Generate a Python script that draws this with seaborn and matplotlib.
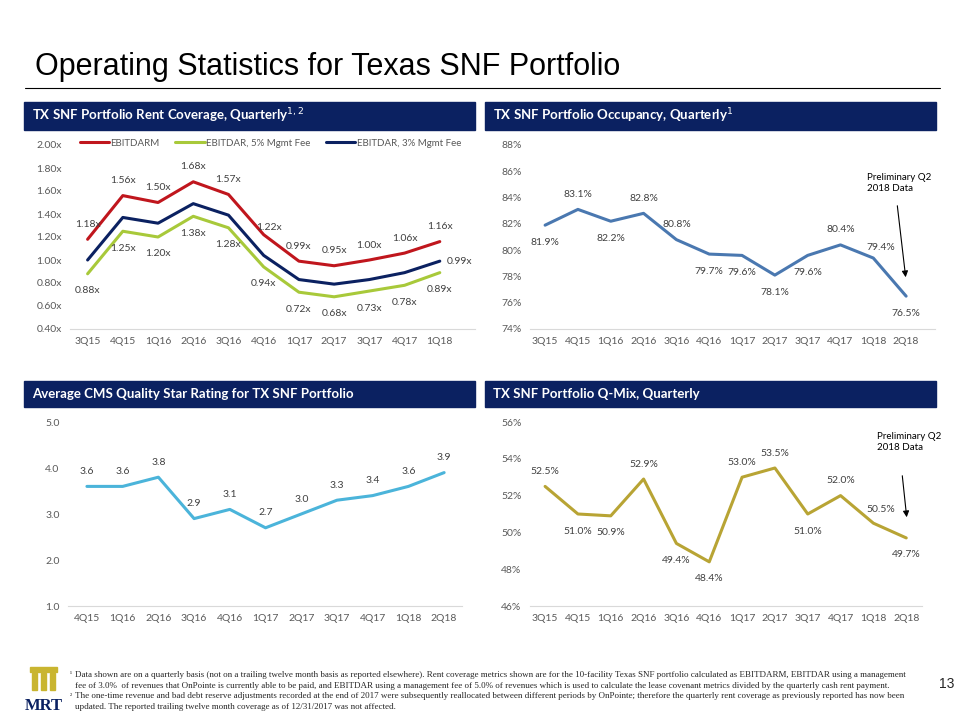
import pandas as pd
import seaborn as sns
import matplotlib.pyplot as plt
from matplotlib.patches import Rectangle

# ---- data ----
rent_q = ["3Q15", "4Q15", "1Q16", "2Q16", "3Q16", "4Q16", "1Q17", "2Q17", "3Q17", "4Q17", "1Q18"]
ebitdarm = [1.18, 1.56, 1.50, 1.68, 1.57, 1.22, 0.99, 0.95, 1.00, 1.06, 1.16]
ebitdar_5 = [0.88, 1.25, 1.20, 1.38, 1.28, 0.94, 0.72, 0.68, 0.73, 0.78, 0.89]
ebitdar_3 = [1.00, 1.37, 1.32, 1.49, 1.39, 1.04, 0.83, 0.79, 0.83, 0.89, 0.99]

occ_q = ["3Q15", "4Q15", "1Q16", "2Q16", "3Q16", "4Q16", "1Q17", "2Q17", "3Q17", "4Q17", "1Q18", "2Q18"]
occupancy = [81.9, 83.1, 82.2, 82.8, 80.8, 79.7, 79.6, 78.1, 79.6, 80.4, 79.4, 76.5]

star_q = ["4Q15", "1Q16", "2Q16", "3Q16", "4Q16", "1Q17", "2Q17", "3Q17", "4Q17", "1Q18", "2Q18"]
star = [3.6, 3.6, 3.8, 2.9, 3.1, 2.7, 3.0, 3.3, 3.4, 3.6, 3.9]

qmix_q = ["3Q15", "4Q15", "1Q16", "2Q16", "3Q16", "4Q16", "1Q17", "2Q17", "3Q17", "4Q17", "1Q18", "2Q18"]
qmix = [52.5, 51.0, 50.9, 52.9, 49.4, 48.4, 53.0, 53.5, 51.0, 52.0, 50.5, 49.7]

NAVY = "#0B2161"
GRAY = "#595959"

sns.set_style("white")
plt.rcParams["font.family"] = ["Lato", "DejaVu Sans"]

W, H = 960, 720
fig = plt.figure(figsize=(9.6, 7.2), dpi=100)


def px_axes(x0, x1, ytop, ybot):
    return fig.add_axes([x0 / W, 1 - ybot / H, (x1 - x0) / W, (ybot - ytop) / H])


def header(x0, x1, ytop, ybot, text):
    fig.patches.append(Rectangle((x0 / W, 1 - ybot / H), (x1 - x0) / W, (ybot - ytop) / H,
                                 transform=fig.transFigure, color=NAVY, zorder=0))
    fig.text((x0 + 8) / W, 1 - (ytop + ybot) / 2 / H, text, color="white", fontsize=9.5,
             fontweight="bold", va="center", ha="left")


def style(ax, ylim, yticks, fmt, xlim):
    ax.set_ylim(*ylim)
    ax.set_xlim(*xlim)
    ax.set_yticks(yticks)
    ax.set_yticklabels([fmt(v) for v in yticks])
    for s in ["top", "left", "right"]:
        ax.spines[s].set_visible(False)
    ax.spines["bottom"].set_color("#D9D9D9")
    ax.tick_params(length=0, labelsize=7.5, colors=GRAY, pad=6)
    ax.set_xlabel("")
    ax.set_ylabel("")
    ax.patch.set_alpha(0)


def labels(ax, vals, fmt, places, extra=None):
    extra = extra or {}
    for i, v in enumerate(vals):
        dx, dy = extra.get(i, (0, 15 if places[i] == "a" else -17))
        ax.annotate(fmt(v), (i, v), xytext=(dx, dy), textcoords="offset pixels",
                    ha="center", va="center", fontsize=7.5, color="#404040")


# title
fig.text(35 / W, 1 - 67 / H, "Operating Statistics for Texas SNF Portfolio",
         family="Liberation Sans", fontsize=22, va="center", ha="left", color="black")
fig.add_artist(plt.Line2D([25 / W, 940 / W], [1 - 88 / H, 1 - 88 / H], color="black", lw=0.8))

# ---- rent coverage ----
header(24, 475, 102, 130, "TX SNF Portfolio Rent Coverage, Quarterly$^{1,2}$")
ax1 = px_axes(70, 475, 145, 329)
rent = pd.DataFrame({"q": rent_q * 3,
                     "v": ebitdarm + ebitdar_5 + ebitdar_3,
                     "s": ["EBITDARM"] * 11 + ["EBITDAR, 5% Mgmt Fee"] * 11 + ["EBITDAR, 3% Mgmt Fee"] * 11})
sns.lineplot(data=rent, x="q", y="v", hue="s", ax=ax1, linewidth=2.2, sort=False,
             palette=["#C0161D", "#A8C93A", NAVY])
style(ax1, (0.4, 2.0), [0.4, 0.6, 0.8, 1.0, 1.2, 1.4, 1.6, 1.8, 2.0],
      lambda v: f"{v:.2f}x", (-0.5, 11.0))
labels(ax1, ebitdarm, lambda v: f"{v:.2f}x", "a" * 11, {5: (5, 7)})
labels(ax1, ebitdar_5, lambda v: f"{v:.2f}x", "b" * 11)
ax1.annotate(f"{ebitdar_3[-1]:.2f}x", (10, ebitdar_3[-1]), xytext=(20, 0),
             textcoords="offset pixels", ha="center", va="center", fontsize=7.5, color="#404040")
ax1.legend(loc="center", bbox_to_anchor=(0.495, 1.01), ncol=3, frameon=False, fontsize=7,
           handlelength=3.0, columnspacing=1.6, handletextpad=0.15, labelcolor=GRAY)

# ---- occupancy ----
header(485, 936, 102, 130, "TX SNF Portfolio Occupancy, Quarterly$^{1}$")
ax2 = px_axes(530, 935, 145, 329)
sns.lineplot(x=occ_q, y=occupancy, ax=ax2, color="#4A78B0", linewidth=2.2, sort=False)
style(ax2, (74, 88), list(range(74, 89, 2)), lambda v: f"{v}%", (-0.46, 11.88))
labels(ax2, occupancy, lambda v: f"{v:.1f}%", "babaabbbbaab", {10: (8, 11)})
ax2.text(867 / W, 1 - 183 / H, "Preliminary Q2\n2018 Data", transform=fig.transFigure,
         fontsize=7, va="center", ha="left", linespacing=1.3, color="black")
ax2.annotate("", xy=(906 / W, 1 - 280 / H), xytext=(897 / W, 1 - 203 / H),
             xycoords="figure fraction", textcoords="figure fraction",
             arrowprops=dict(arrowstyle="-|>", color="black", lw=0.8, mutation_scale=9))

# ---- CMS star rating ----
header(24, 475, 381, 407, "Average CMS Quality Star Rating for TX SNF Portfolio")
ax3 = px_axes(68, 462, 422, 606)
sns.lineplot(x=star_q, y=star, ax=ax3, color="#4BB4DA", linewidth=2.2, sort=False)
style(ax3, (1, 5), [1, 2, 3, 4, 5], lambda v: f"{v:.1f}", (-0.53, 10.5))
labels(ax3, star, lambda v: f"{v:.1f}", "a" * 11, None)

# ---- Q-mix ----
header(485, 936, 381, 407, "TX SNF Portfolio Q-Mix, Quarterly")
ax4 = px_axes(530, 922, 422, 606)
sns.lineplot(x=qmix_q, y=qmix, ax=ax4, color="#B8A434", linewidth=2.2, sort=False)
style(ax4, (46, 56), list(range(46, 57, 2)), lambda v: f"{v}%", (-0.46, 11.48))
labels(ax4, qmix, lambda v: f"{v:.1f}%", "abbabbaababb", {10: (7, 14)})
ax4.text(877 / W, 1 - 442 / H, "Preliminary Q2\n2018 Data", transform=fig.transFigure,
         fontsize=7, va="center", ha="left", linespacing=1.3, color="black")
ax4.annotate("", xy=(907 / W, 1 - 520 / H), xytext=(902 / W, 1 - 473 / H),
             xycoords="figure fraction", textcoords="figure fraction",
             arrowprops=dict(arrowstyle="-|>", color="black", lw=0.8, mutation_scale=9))

# ---- footnotes ----
notes = [
    ("\u00b9 ", "Data shown are on a quarterly basis (not on a trailing twelve month basis as reported elsewhere). Rent coverage metrics shown are for the 10-facility Texas SNF portfolio calculated as EBITDARM, EBITDAR using a management"),
    ("", "fee of 3.0%  of revenues that OnPointe is currently able to be paid, and EBITDAR using a management fee of 5.0% of revenues which is used to calculate the lease covenant metrics divided by the quarterly cash rent payment."),
    ("\u00b2 ", "The one-time revenue and bad debt reserve adjustments recorded at the end of 2017 were subsequently reallocated between different periods by OnPointe; therefore the quarterly rent coverage as previously reported has now been"),
    ("", "updated. The reported trailing twelve month coverage as of 12/31/2017 was not affected."),
]
for k, (mark, line) in enumerate(notes):
    y = 1 - (675 + k * 10.7) / H
    if mark:
        fig.text(70 / W, y, mark, family="Liberation Serif", fontsize=5, va="center", ha="left")
    fig.text(75 / W, y, line, family="Liberation Serif", fontsize=6.45, va="center", ha="left")
fig.text(947 / W, 1 - 684 / H, "13", family="Liberation Sans", fontsize=10, va="center", ha="center")

# ---- logo ----
GOLD = "#C9B530"
fig.patches.append(Rectangle((30 / W, 1 - 672 / H), 27 / W, 5 / H, transform=fig.transFigure, color=GOLD))
for cx in (32, 41, 50):
    fig.patches.append(Rectangle((cx / W, 1 - 690 / H), 5 / W, 17 / H, transform=fig.transFigure, color=GOLD))
fig.text(44 / W, 1 - 706 / H, "MRT", family="Liberation Serif", fontweight="bold", fontsize=12,
         color=NAVY, ha="center", va="center")

fig.savefig("out.png", dpi=100)
